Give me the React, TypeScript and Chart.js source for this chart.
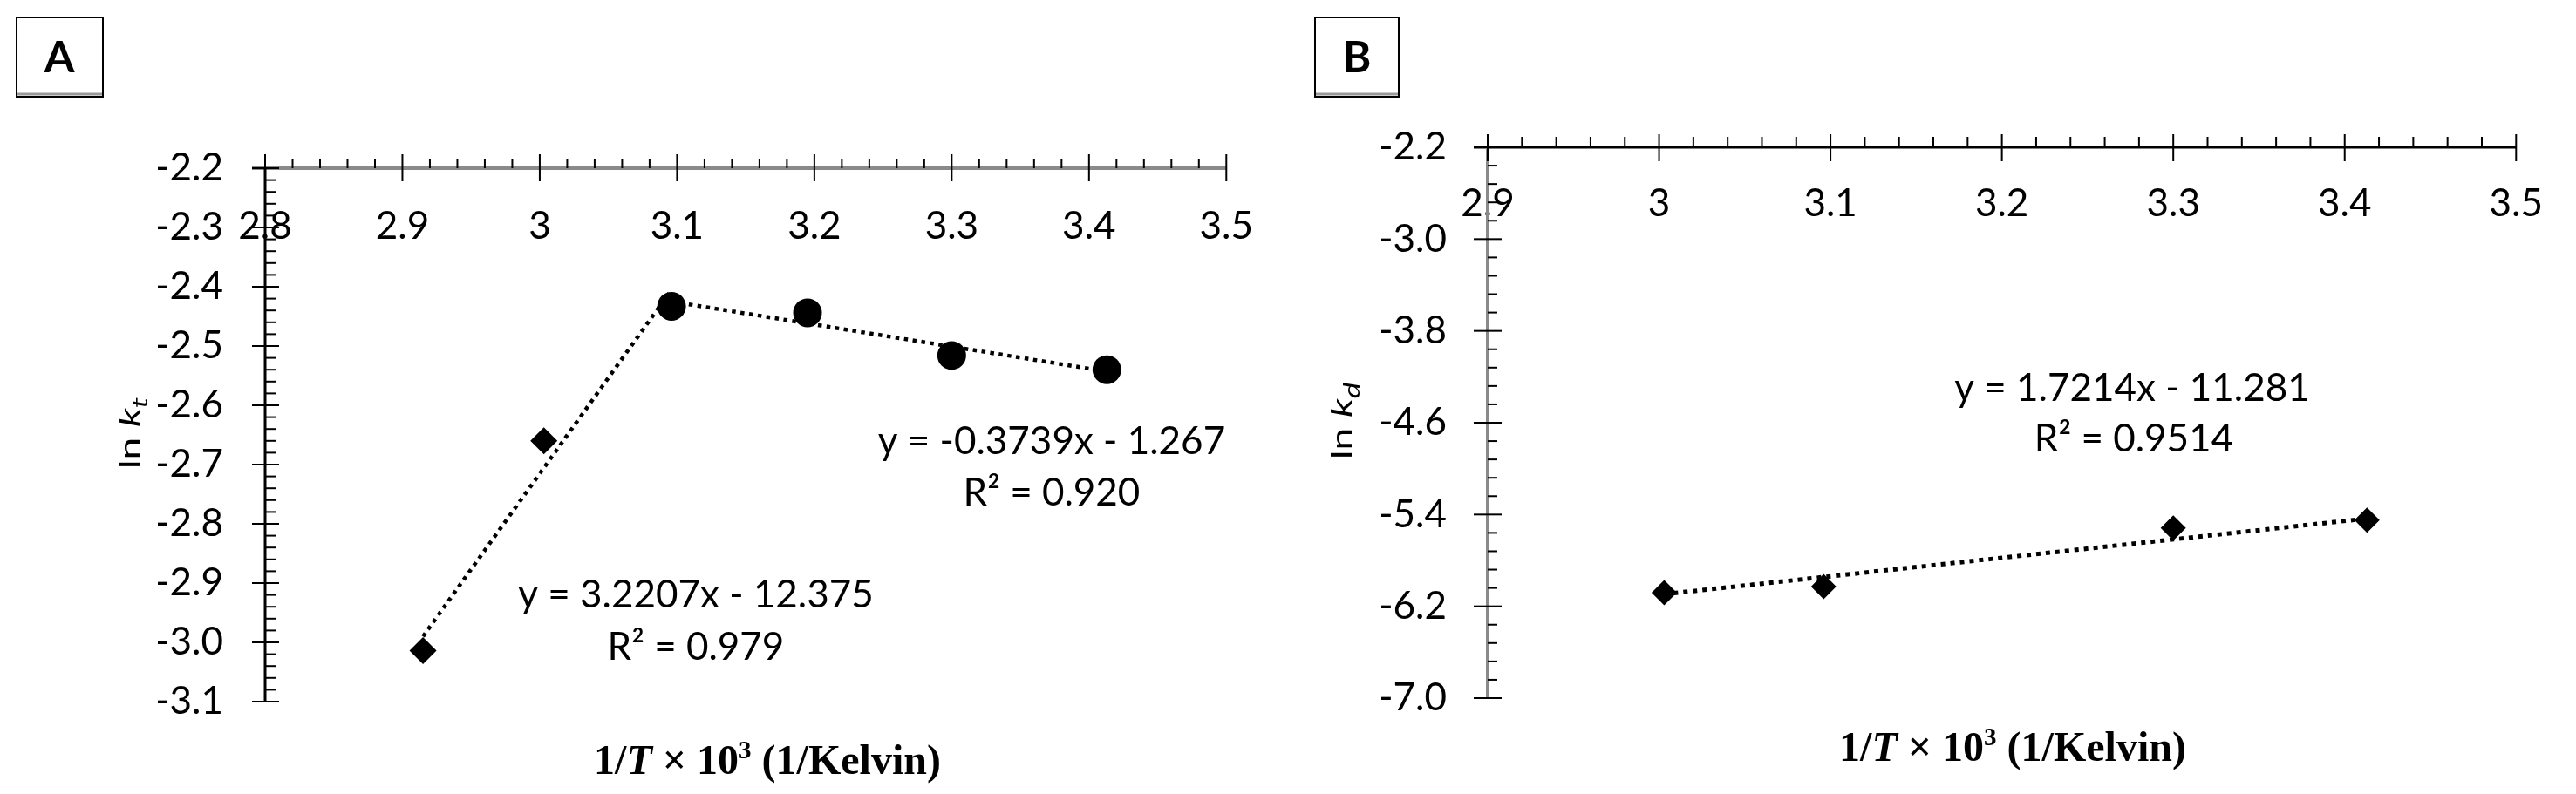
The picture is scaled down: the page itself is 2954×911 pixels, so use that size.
import React, { useEffect, useRef } from 'react';
import { Chart, registerables } from 'chart.js';

Chart.register(...registerables);

const CANVAS_W = 1477;
const CANVAS_H = 911;

// ---------- Panel A data ----------
const aCircleX = [3.096, 3.195, 3.3, 3.413];
const aCircleY = [-2.433, -2.444, -2.516, -2.54];
const aDiamondX = [2.915, 3.003];
const aDiamondY = [-3.014, -2.66];
const aTrendLowX = [2.915, 3.096];
const aTrendLowY = [-2.99, -2.405];
const aTrendHighX = [3.096, 3.413];
const aTrendHighY = [-2.425, -2.543];
const aXTickValues = [2.8, 2.9, 3.0, 3.1, 3.2, 3.3, 3.4, 3.5];
const aXTickLabels = ['2.8', '2.9', '3', '3.1', '3.2', '3.3', '3.4', '3.5'];
const aYTickValues = [-2.2, -2.3, -2.4, -2.5, -2.6, -2.7, -2.8, -2.9, -3.0, -3.1];
const aYTickLabels = ['-2.2', '-2.3', '-2.4', '-2.5', '-2.6', '-2.7', '-2.8', '-2.9', '-3.0', '-3.1'];
const aEquationTexts = ['y = 3.2207x - 12.375', 'R² = 0.979', 'y = -0.3739x - 1.267', 'R² = 0.920'];

// ---------- Panel B data ----------
const bPointX = [3.003, 3.096, 3.3, 3.413];
const bPointY = [-6.081, -6.028, -5.517, -5.448];
const bTrendX = [3.003, 3.413];
const bTrendY = [-6.094, -5.435];
const bXTickValues = [2.9, 3.0, 3.1, 3.2, 3.3, 3.4, 3.5];
const bXTickLabels = ['2.9', '3', '3.1', '3.2', '3.3', '3.4', '3.5'];
const bYTickValues = [-2.2, -3.0, -3.8, -4.6, -5.4, -6.2, -7.0];
const bYTickLabels = ['-2.2', '-3.0', '-3.8', '-4.6', '-5.4', '-6.2', '-7.0'];
const bEquationTexts = ['y = 1.7214x - 11.281', 'R² = 0.9514'];

const zip = (xs: number[], ys: number[]) => xs.map((x, i) => ({ x, y: ys[i] }));

const LABEL_FONT = 'Lato, "Open Sans", sans-serif';
const SERIF = '"Liberation Serif", "Times New Roman", serif';

function pointSet(xs: number[], ys: number[], style: string, radius: number) {
  return {
    type: 'scatter',
    data: zip(xs, ys),
    pointStyle: style,
    pointRadius: radius,
    backgroundColor: '#000',
    borderColor: '#000',
    borderWidth: 0,
    order: 0,
  };
}

function trendSet(xs: number[], ys: number[], width: number, dash: number[]) {
  return {
    type: 'line',
    data: zip(xs, ys),
    showLine: true,
    borderColor: '#000',
    borderWidth: width,
    borderDash: dash,
    borderCapStyle: 'butt',
    pointRadius: 0,
    fill: false,
    tension: 0,
    order: 1,
  };
}

const panelA = {
  xMin: 2.8, xMax: 3.5, yMin: -3.1, yMax: -2.2,
  xTicks: aXTickValues, xTickLabels: aXTickLabels,
  yTicks: aYTickValues, yTickLabels: aYTickLabels,
  area: { left: 304, top: 193, right: 1436, bottom: 805 },
  xLabelPad: 40, yLabelPad: 48,
  xAxis: { color: '#8a8a8a', width: 4 }, yAxis: { color: '#000', width: 3 },
  xMajor: [16, 15], xMinor: 11, yMajor: [15, 16], yMinor: 13,
  datasets: [
    pointSet(aCircleX, aCircleY, 'circle', 16.5),
    pointSet(aDiamondX, aDiamondY, 'rectRot', 15.5),
    trendSet(aTrendLowX, aTrendLowY, 4.5, [4.5, 5.5]),
    trendSet(aTrendHighX, aTrendHighY, 4.5, [4.5, 5.5]),
  ],
  notes: [
    { text: aEquationTexts[0], x: 798, y: 697 },
    { text: aEquationTexts[1], x: 798, y: 757 },
    { text: aEquationTexts[2], x: 1206, y: 521 },
    { text: aEquationTexts[3], x: 1206, y: 580 },
  ],
  xTitle: { cx: 880, baseline: 888 },
  yTitle: { x: 160, cy: 497, sub: 't' },
  box: { x: 19, y: 20, w: 99, h: 91, letter: 'A', cx: 68, cy: 65 },
};

const panelB = {
  xMin: 2.9, xMax: 3.5, yMin: -7.0, yMax: -2.2,
  xTicks: bXTickValues, xTickLabels: bXTickLabels,
  yTicks: bYTickValues, yTickLabels: bYTickLabels,
  area: { left: 229, top: 169, right: 1439, bottom: 801 },
  xLabelPad: 38, yLabelPad: 47,
  xAxis: { color: '#000', width: 3 }, yAxis: { color: '#8a8a8a', width: 4 },
  xMajor: [15, 16], xMinor: 12, yMajor: [16, 16], yMinor: 11,
  datasets: [
    pointSet(bPointX, bPointY, 'rectRot', 14.5),
    trendSet(bTrendX, bTrendY, 5, [5, 6]),
  ],
  notes: [
    { text: bEquationTexts[0], x: 968, y: 460 },
    { text: bEquationTexts[1], x: 970, y: 518 },
  ],
  xTitle: { cx: 831, baseline: 873 },
  yTitle: { x: 73, cy: 483, sub: 'd' },
  box: { x: 31, y: 20, w: 96, h: 91, letter: 'B', cx: 79, cy: 65 },
};

function line(ctx: CanvasRenderingContext2D, x1: number, y1: number, x2: number, y2: number) {
  ctx.beginPath();
  ctx.moveTo(x1, y1);
  ctx.lineTo(x2, y2);
  ctx.stroke();
}

function makeDecor(p: any) {
  return {
    id: 'decor' + p.box.letter,
    beforeDatasetsDraw(chart: any) {
      const ctx: CanvasRenderingContext2D = chart.ctx;
      const xs = chart.scales.x;
      const ys = chart.scales.y;
      const axisY = ys.getPixelForValue(p.yMax);
      const axisX = xs.getPixelForValue(p.xMin);
      const xEnd = xs.getPixelForValue(p.xMax);
      const yEnd = ys.getPixelForValue(p.yMin);
      ctx.save();
      // axis lines
      ctx.strokeStyle = p.xAxis.color;
      ctx.lineWidth = p.xAxis.width;
      line(ctx, axisX - p.yMajor[0], axisY, xEnd, axisY);
      ctx.strokeStyle = p.yAxis.color;
      ctx.lineWidth = p.yAxis.width;
      line(ctx, axisX, axisY, axisX, yEnd);
      // x ticks
      ctx.strokeStyle = '#000';
      ctx.lineWidth = 2;
      for (let i = 0; i < p.xTicks.length; i++) {
        const px = xs.getPixelForValue(p.xTicks[i]);
        line(ctx, px, axisY - p.xMajor[0], px, axisY + p.xMajor[1]);
        if (i < p.xTicks.length - 1) {
          for (let k = 1; k < 5; k++) {
            const v = p.xTicks[i] + ((p.xTicks[i + 1] - p.xTicks[i]) * k) / 5;
            const mx = xs.getPixelForValue(v);
            line(ctx, mx, axisY - p.xMinor, mx, axisY);
          }
        }
      }
      // y ticks
      for (let i = 0; i < p.yTicks.length; i++) {
        const py = ys.getPixelForValue(p.yTicks[i]);
        line(ctx, axisX - p.yMajor[0], py, axisX + p.yMajor[1], py);
        if (i < p.yTicks.length - 1) {
          for (let k = 1; k < 5; k++) {
            const v = p.yTicks[i] + ((p.yTicks[i + 1] - p.yTicks[i]) * k) / 5;
            const my = ys.getPixelForValue(v);
            line(ctx, axisX, my, axisX + p.yMinor, my);
          }
        }
      }
      ctx.restore();
    },
    afterDraw(chart: any) {
      const ctx: CanvasRenderingContext2D = chart.ctx;
      ctx.save();
      ctx.fillStyle = '#000';
      // regression notes
      ctx.font = `44px ${LABEL_FONT}`;
      ctx.textAlign = 'center';
      ctx.textBaseline = 'alphabetic';
      for (const n of p.notes) ctx.fillText(n.text, n.x, n.y);

      // x title
      const size = 48;
      const segs = [
        { t: '1/', f: `bold ${size}px ${SERIF}`, dy: 0 },
        { t: 'T', f: `italic bold ${size}px ${SERIF}`, dy: 0 },
        { t: ' × 10', f: `bold ${size}px ${SERIF}`, dy: 0 },
        { t: '3', f: `bold ${Math.round(size * 0.6)}px ${SERIF}`, dy: -18 },
        { t: ' (1/Kelvin)', f: `bold ${size}px ${SERIF}`, dy: 0 },
      ];
      ctx.textAlign = 'left';
      let total = 0;
      for (const s of segs) { ctx.font = s.f; total += ctx.measureText(s.t).width; }
      let cx = p.xTitle.cx - total / 2;
      for (const s of segs) {
        ctx.font = s.f;
        ctx.fillText(s.t, cx, p.xTitle.baseline + s.dy);
        cx += ctx.measureText(s.t).width;
      }

      // y title (rotated, condensed)
      const ySize = 46;
      const ysegs = [
        { t: 'ln ', f: `${ySize}px ${LABEL_FONT}`, dy: 0 },
        { t: 'k', f: `italic ${ySize}px ${LABEL_FONT}`, dy: 0 },
        { t: p.yTitle.sub, f: `italic ${Math.round(ySize * 0.75)}px ${LABEL_FONT}`, dy: 12 },
      ];
      let ytotal = 0;
      for (const s of ysegs) { ctx.font = s.f; ytotal += ctx.measureText(s.t).width; }
      ctx.save();
      ctx.translate(p.yTitle.x, p.yTitle.cy);
      ctx.scale(0.72, 1);
      ctx.rotate(-Math.PI / 2);
      let tx = -ytotal / 2;
      for (const s of ysegs) {
        ctx.font = s.f;
        ctx.fillText(s.t, tx, s.dy);
        tx += ctx.measureText(s.t).width;
      }
      ctx.restore();

      // panel letter box
      const b = p.box;
      ctx.fillStyle = '#fff';
      ctx.fillRect(b.x, b.y, b.w, b.h);
      ctx.strokeStyle = '#9a9a9a';
      ctx.lineWidth = 3;
      line(ctx, b.x + 1, b.y + b.h - 3, b.x + b.w - 1, b.y + b.h - 3);
      ctx.strokeStyle = '#000';
      ctx.lineWidth = 2;
      ctx.strokeRect(b.x, b.y, b.w, b.h);
      ctx.fillStyle = '#000';
      ctx.font = `bold 50px ${LABEL_FONT}`;
      ctx.textAlign = 'center';
      ctx.fillText(b.letter, b.cx, b.cy + 18);
      ctx.restore();
    },
  };
}

function buildConfig(p: any) {
  const tickFont = { family: LABEL_FONT, size: 44 };
  return {
    type: 'scatter',
    data: { datasets: p.datasets },
    options: {
      responsive: false,
      animation: false,
      events: [],
      layout: {
        padding: {
          left: 0,
          top: p.area.top,
          right: CANVAS_W - p.area.right,
          bottom: CANVAS_H - p.area.bottom,
        },
      },
      plugins: { legend: { display: false }, tooltip: { enabled: false } },
      scales: {
        x: {
          type: 'linear',
          min: p.xMin,
          max: p.xMax,
          position: { y: p.yMax },
          grid: { display: false, drawTicks: false },
          border: { display: false },
          afterBuildTicks: (s: any) => { s.ticks = p.xTicks.map((v: number) => ({ value: v })); },
          ticks: {
            autoSkip: false, maxRotation: 0, minRotation: 0,
            padding: p.xLabelPad, color: '#000', font: tickFont,
            callback: (_v: any, i: number) => p.xTickLabels[i],
          },
        },
        y: {
          type: 'linear',
          position: 'left',
          min: p.yMin,
          max: p.yMax,
          grid: { display: false, drawTicks: false },
          border: { display: false },
          afterBuildTicks: (s: any) => { s.ticks = p.yTicks.map((v: number) => ({ value: v })); },
          afterFit: (s: any) => { s.width = p.area.left; },
          ticks: {
            autoSkip: false,
            padding: p.yLabelPad, color: '#000', font: tickFont,
            callback: (_v: any, i: number) => p.yTickLabels[i],
          },
        },
      },
    },
    plugins: [makeDecor(p)],
  };
}

function Panel({ cfg, left }: { cfg: any; left: number }) {
  const ref = useRef<HTMLCanvasElement | null>(null);
  useEffect(() => {
    if (!ref.current) return;
    const chart = new Chart(ref.current, buildConfig(cfg) as any);
    return () => chart.destroy();
  }, [cfg]);
  return (
    <canvas
      ref={ref}
      width={CANVAS_W}
      height={CANVAS_H}
      style={{ position: 'absolute', left, top: 0, width: CANVAS_W, height: CANVAS_H }}
    />
  );
}

export default function App() {
  return (
    <div style={{ position: 'absolute', left: 0, top: 0, width: 2954, height: 911, background: '#fff', overflow: 'hidden' }}>
      <Panel cfg={panelA} left={0} />
      <Panel cfg={panelB} left={CANVAS_W} />
    </div>
  );
}
